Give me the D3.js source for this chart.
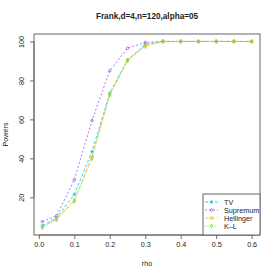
<!DOCTYPE html>
<html>
<head>
<meta charset="utf-8">
<title>Frank powers</title>
<script src="https://cdn.jsdelivr.net/npm/d3@7"></script>
<style>
  body { margin: 0; background: #fff; }
  text { font-family: "Liberation Sans", Arial, sans-serif; fill: #222; }
  .axis path, .axis line { stroke: #444; stroke-width: 0.8; }
  .axis text { font-size: 7.2px; fill: #222; }
</style>
</head>
<body>
<svg width="278" height="278"></svg>
<script>
// values
var rho = [0.01, 0.05, 0.1, 0.15, 0.2, 0.25, 0.3, 0.35, 0.4, 0.45, 0.5, 0.55, 0.6];
var tvPow   = [5.5, 9.5, 21.5, 43.5, 73.5, 90.5, 98.5, 100, 100, 100, 100, 100, 100];
var supPow  = [7.5, 10.5, 29, 59.5, 85, 96.5, 99.5, 100, 100, 100, 100, 100, 100];
var helPow  = [5, 9, 18.5, 41, 73, 90.5, 98, 100, 100, 100, 100, 100, 100];
var klPow   = [4.5, 8.5, 18, 40, 72.5, 90, 97.5, 100, 100, 100, 100, 100, 100];
var seriesNames = ["TV", "Supremum", "Hellinger", "K\u2013L"];
var xTicks = [0, 0.1, 0.2, 0.3, 0.4, 0.5, 0.6];
var yTicks = [20, 40, 60, 80, 100];

var colors = ["#1ec8f5", "#a06ae8", "#ffbf55", "#7ee02a"];
var dashes = ["3,2", "2,2", "4,2", "1,1.5"];
var series = [tvPow, supPow, helPow, klPow];

var svg = d3.select("svg");
var pLeft = 34, pRight = 260, pTop = 34, pBottom = 235;

// R style 4% padding on both axes
function padded(ext) {
  var d = (ext[1] - ext[0]) * 0.04;
  return [ext[0] - d, ext[1] + d];
}
var allVals = d3.merge(series);
var x = d3.scaleLinear().domain(padded(d3.extent(rho))).range([pLeft, pRight]);
var y = d3.scaleLinear().domain(padded(d3.extent(allVals))).range([pBottom, pTop]);

// axes
svg.append("g")
    .attr("class", "axis")
    .attr("transform", "translate(0," + pBottom + ")")
    .call(d3.axisBottom(x).tickValues(xTicks).tickSize(4).tickPadding(3)
      .tickFormat(d3.format(".1f")))
  .call(function(g) { g.select(".domain").attr("d", "M" + x(0) + ",0H" + x(0.6)); });

var ya = svg.append("g")
    .attr("class", "axis")
    .attr("transform", "translate(" + pLeft + ",0)")
    .call(d3.axisLeft(y).tickValues(yTicks).tickSize(4))
  .call(function(g) { g.select(".domain").attr("d", "M0," + y(20) + "V" + y(100)); });
ya.selectAll(".tick text")
    .attr("x", null).attr("dy", null)
    .attr("transform", "translate(-10,0) rotate(-90)")
    .style("text-anchor", "middle");

// box
svg.append("rect")
    .attr("x", pLeft).attr("y", pTop)
    .attr("width", pRight - pLeft).attr("height", pBottom - pTop)
    .attr("fill", "none").attr("stroke", "#666").attr("stroke-width", 1);

function symbolPath(k) {
  if (k === 0) return d3.symbol(d3.symbolCircle, 4)();
  if (k === 2) return d3.symbol(d3.symbolSquare, 5)();
  if (k === 3) return d3.symbol(d3.symbolDiamond, 5)();
  return d3.symbol(d3.symbolCircle, 5)();
}

// lines
var line = d3.line()
    .x(function(d, i) { return x(rho[i]); })
    .y(function(d) { return y(d); });

series.forEach(function(vals, k) {
  var g = svg.append("g");
  g.append("path")
      .attr("d", line(vals))
      .attr("fill", "none")
      .attr("stroke", colors[k])
      .attr("stroke-width", 0.9)
      .attr("stroke-dasharray", dashes[k]);
  g.selectAll("path.pt")
    .data(vals)
    .enter().append("path")
      .attr("class", "pt")
      .attr("transform", function(d, i) { return "translate(" + x(rho[i]) + "," + y(d) + ")"; })
      .attr("d", symbolPath(k))
      .attr("fill", k === 0 ? colors[k] : "none")
      .attr("stroke", colors[k])
      .attr("stroke-width", 0.9);
});

// legend
var lg = svg.append("g");
lg.append("rect")
    .attr("x", 203).attr("y", 194)
    .attr("width", pRight - 203).attr("height", pBottom - 194)
    .attr("fill", "#fff").attr("stroke", "#666").attr("stroke-width", 1);
seriesNames.forEach(function(name, k) {
  var yy = 202 + k * 8;
  lg.append("line")
      .attr("x1", 205).attr("x2", 218).attr("y1", yy).attr("y2", yy)
      .attr("stroke", colors[k]).attr("stroke-width", 0.9).attr("stroke-dasharray", dashes[k]);
  lg.append("path")
      .attr("transform", "translate(211.5," + yy + ")")
      .attr("d", symbolPath(k))
      .attr("fill", k === 0 ? colors[k] : "none")
      .attr("stroke", colors[k]).attr("stroke-width", 0.9);
  lg.append("text")
      .attr("x", 224).attr("y", yy).attr("dy", "0.35em")
      .style("font-size", "7.2px")
      .text(name);
});

// titles
svg.append("text")
    .attr("x", (pLeft + pRight) / 2).attr("y", 19)
    .style("text-anchor", "middle").style("font-weight", "bold").style("font-size", "8.2px")
    .text("Frank,d=4,n=120,alpha=05");
svg.append("text")
    .attr("x", (pLeft + pRight) / 2).attr("y", 266)
    .style("text-anchor", "middle").style("font-size", "7.2px")
    .text("rho");
svg.append("text")
    .attr("transform", "translate(8," + (pTop + pBottom) / 2 + ") rotate(-90)")
    .style("text-anchor", "middle").style("font-size", "7.2px")
    .text("Powers");
</script>
</body>
</html>
